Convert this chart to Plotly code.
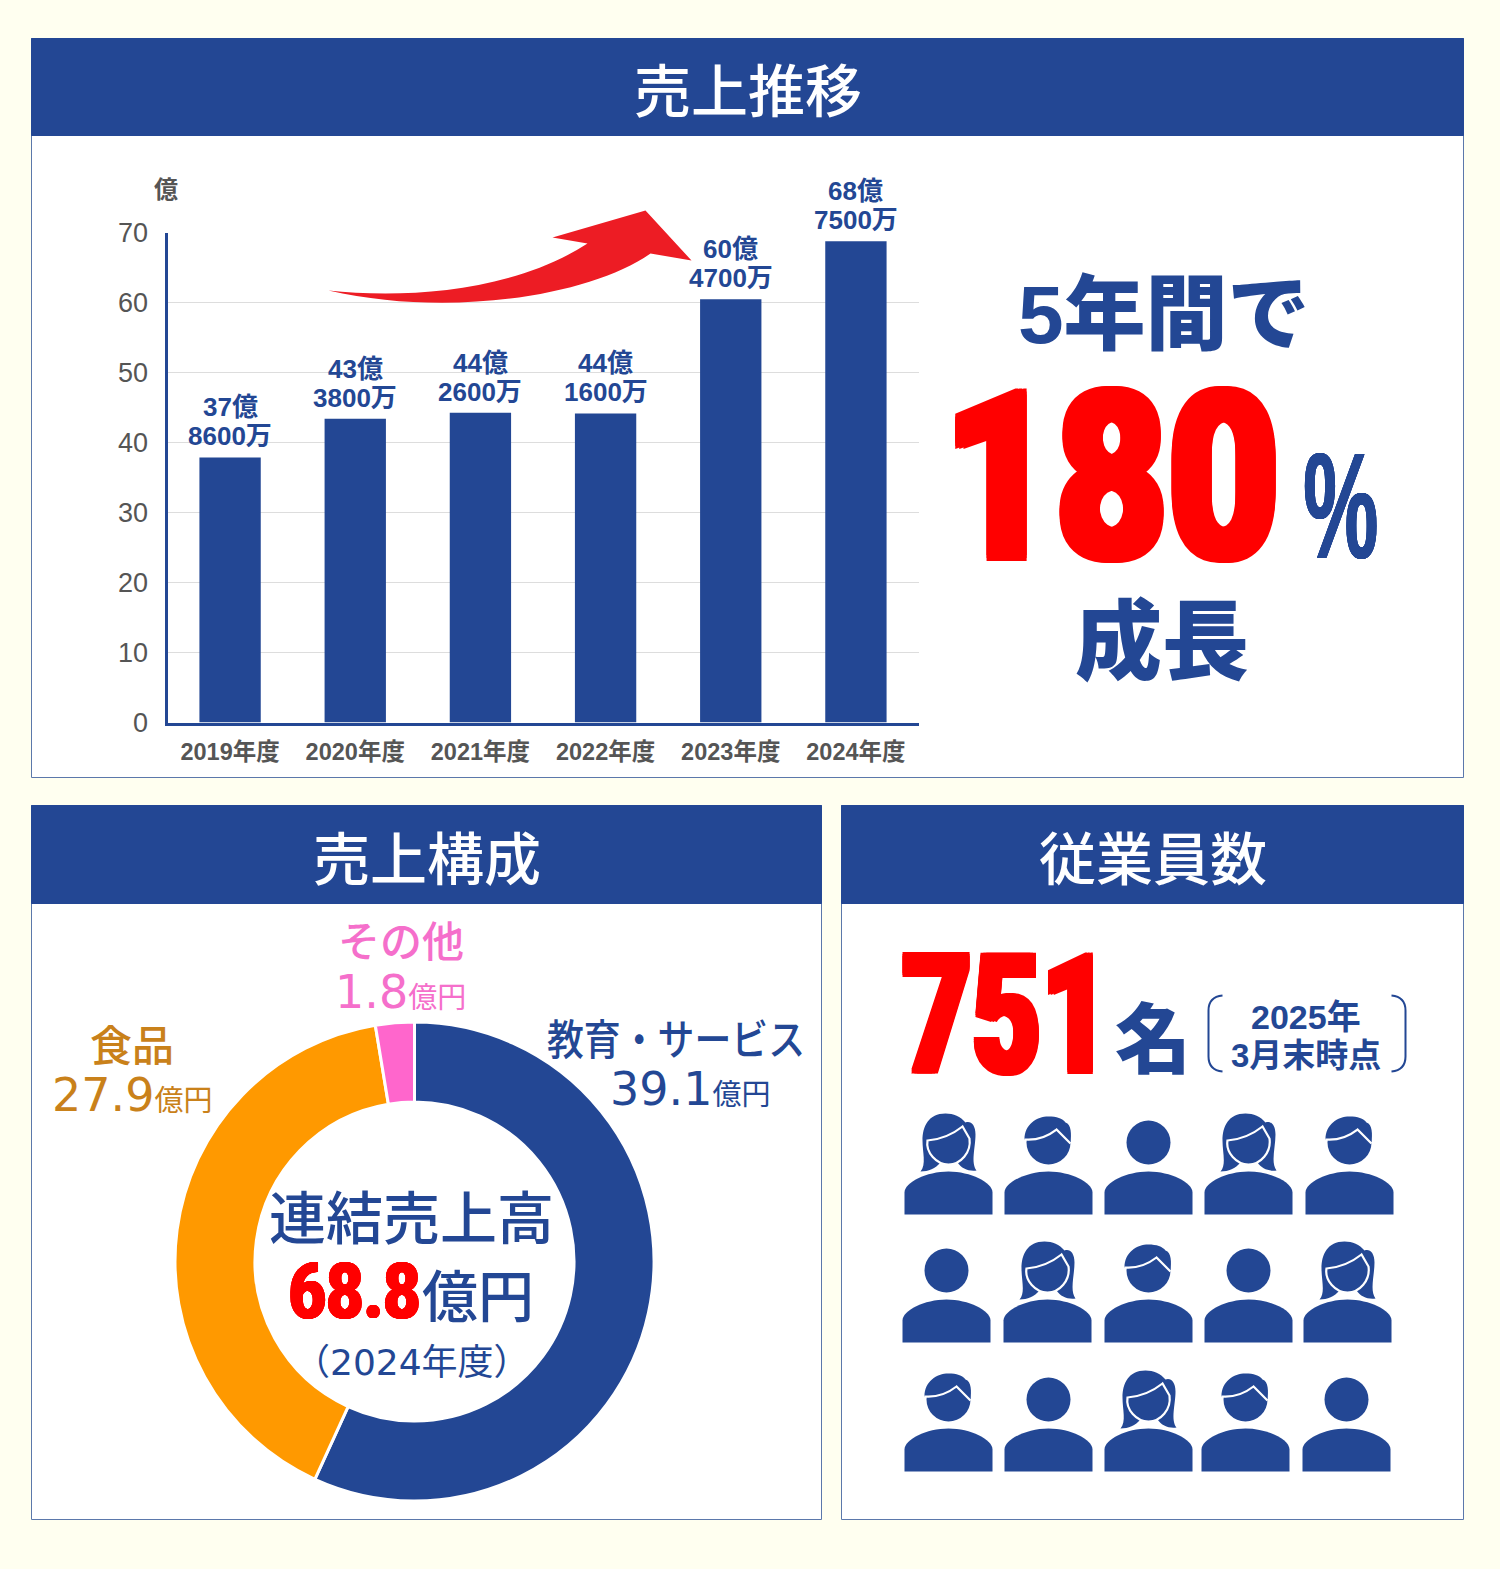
import plotly.graph_objects as go

W, H = 1500, 1569
NAVY = "#234794"
RED = "#FF0000"
GREY = "#555555"
JP = "Noto Sans CJK JP"
LATIN = "Liberation Sans, Noto Sans CJK JP"
WIDE = "DejaVu Sans, Noto Sans CJK JP"
HEAVY = "Roboto"

# sales per year (oku yen)
years = ["2019年度", "2020年度", "2021年度", "2022年度", "2023年度", "2024年度"]
sales = [37.86, 43.38, 44.26, 44.16, 60.47, 68.75]
sales_oku = ["37億", "43億", "44億", "44億", "60億", "68億"]
sales_man = ["8600万", "3800万", "2600万", "1600万", "4700万", "7500万"]
y_ticks = [0, 10, 20, 30, 40, 50, 60, 70]

# sales breakdown 2024
segments = ["教育・サービス", "食品", "その他"]
segment_values = [39.1, 27.9, 1.8]
segment_colors = [NAVY, "#FF9900", "#FF66CC"]

# people icons, n = no hair, m = male, f = female
icon_rows = [
    ["f", "m", "n", "f", "m"],
    ["n", "f", "m", "n", "f"],
    ["m", "n", "f", "m", "n"],
]
icon_x = [
    [948, 1048, 1148, 1248, 1349],
    [946, 1047, 1148, 1248, 1347],
    [948, 1048, 1148, 1245, 1346],
]
icon_bottom = [1214, 1342, 1471]


def px(x):
    return (x + 0.5) / W


def py(y):
    return 1 - (y + 0.5) / H


def path(points):
    # points in pixels: ("M", x, y), ("L", x, y), ("C", x1, y1, x2, y2, x, y), ("Z",)
    out = []
    for p in points:
        coords = []
        for i, v in enumerate(p[1:]):
            coords.append(f"{px(v) if i % 2 == 0 else py(v):.5f}")
        out.append(p[0] + " " + ",".join(coords) if coords else p[0])
    return " ".join(out)


shapes = []


def rect(x0, y0, x1, y1, fill, line=None):
    shapes.append(dict(type="rect", xref="paper", yref="paper", layer="below",
                       x0=px(x0), x1=px(x1), y0=py(y0), y1=py(y1), fillcolor=fill,
                       line=dict(color=line or fill, width=1)))


def draw(points, fill=NAVY, line=None, width=0):
    shapes.append(dict(type="path", xref="paper", yref="paper", layer="above",
                       path=path(points), fillcolor=fill,
                       line=dict(color=line or "rgba(0,0,0,0)", width=width)))


def circle(cx, cy, r, fill=NAVY):
    shapes.append(dict(type="circle", xref="paper", yref="paper", layer="above",
                       x0=px(cx - r), x1=px(cx + r), y0=py(cy - r), y1=py(cy + r),
                       fillcolor=fill, line=dict(width=0)))


def person(kind, cx, by):
    # shoulders
    draw([("M", cx - 44, by), ("L", cx - 44, by - 22),
          ("C", cx - 44, by - 32, cx - 22, by - 43, cx, by - 43),
          ("C", cx + 22, by - 43, cx + 44, by - 32, cx + 44, by - 22),
          ("L", cx + 44, by), ("Z",)])
    cy = by - 72
    if kind == "n":
        circle(cx, cy, 22)
    elif kind == "m":
        circle(cx, cy, 22)
        draw([("M", cx - 24, cy - 3),
              ("C", cx - 24, cy - 18, cx - 12, cy - 26, cx, cy - 26),
              ("C", cx + 8, cy - 26, cx + 14, cy - 24, cx + 17, cy - 20),
              ("C", cx + 23, cy - 18, cx + 23, cy - 8, cx + 22, cy),
              ("L", cx + 8, cy - 13),
              ("C", cx, cy - 6, cx - 12, cy - 3, cx - 24, cy - 3), ("Z",)])
        draw([("M", cx - 24, cy - 3),
              ("C", cx - 12, cy - 2, cx - 1, cy - 6, cx + 8, cy - 13),
              ("L", cx + 22, cy + 1)], fill="rgba(0,0,0,0)", line="white", width=2.2)
    else:
        # hair first, then the face on top with a white outline
        draw([("M", cx - 3, cy - 29),
              ("C", cx - 20, cy - 29, cx - 26, cy - 16, cx - 26, cy - 2),
              ("C", cx - 26, cy + 10, cx - 22, cy + 22, cx - 28, cy + 29),
              ("C", cx - 20, cy + 29, cx - 13, cy + 26, cx - 8, cy + 20),
              ("L", cx + 9, cy + 20),
              ("C", cx + 13, cy + 26, cx + 20, cy + 29, cx + 28, cy + 28),
              ("C", cx + 22, cy + 20, cx + 27, cy + 5, cx + 27, cy - 8),
              ("C", cx + 27, cy - 18, cx + 22, cy - 22, cx + 17, cy - 20),
              ("C", cx + 12, cy - 26, cx + 5, cy - 29, cx - 3, cy - 29), ("Z",)])
        draw([("M", cx - 21, cy - 2),
              ("C", cx - 8, cy - 3, cx + 4, cy - 8, cx + 14, cy - 16),
              ("L", cx + 21, cy - 4),
              ("C", cx + 23, cy + 10, cx + 12, cy + 22, cx, cy + 22),
              ("C", cx - 12, cy + 22, cx - 23, cy + 10, cx - 21, cy - 2), ("Z",)],
             line="white", width=2.2)


# panels
rect(31, 38, 1463, 777, "white", "#5B78AB")
rect(31, 38, 1463, 135, NAVY)
rect(31, 805, 821, 1519, "white", "#5B78AB")
rect(31, 805, 821, 903, NAVY)
rect(841, 805, 1463, 1519, "white", "#5B78AB")
rect(841, 805, 1463, 903, NAVY)

# arrow over the bars
draw([("M", 328, 290),
      ("C", 400, 298, 510, 293, 587, 243),
      ("L", 552, 237), ("L", 645, 210), ("L", 691, 260), ("L", 650, 253),
      ("C", 590, 295, 450, 318, 328, 290), ("Z",)], fill="#ED1C24")

# brackets around the date
draw([("M", 1222, 995), ("C", 1212, 996, 1208, 1002, 1208, 1010), ("L", 1208, 1056),
      ("C", 1208, 1064, 1212, 1070, 1222, 1071)],
     fill="rgba(0,0,0,0)", line=NAVY, width=2)
draw([("M", 1391, 995), ("C", 1401, 996, 1405, 1002, 1405, 1010), ("L", 1405, 1056),
      ("C", 1405, 1064, 1401, 1070, 1391, 1071)],
     fill="rgba(0,0,0,0)", line=NAVY, width=2)

for kinds, xs, by in zip(icon_rows, icon_x, icon_bottom):
    for kind, cx in zip(kinds, xs):
        person(kind, cx, by)

annotations = []


def note(x, y, text, size, color=NAVY, weight=400, family=JP, shadow=None):
    font = dict(family=family, size=size, color=color, weight=weight)
    if shadow:
        font["shadow"] = shadow
    annotations.append(dict(xref="paper", yref="paper", x=px(x), y=py(y), text=text,
                            showarrow=False, xanchor="center", yanchor="middle",
                            font=font))


def fat(color, nx, ny):
    # thicker digits than any installed font has
    parts = []
    for dx, dy in [(nx, 0), (-nx, 0), (0, ny), (0, -ny),
                   (nx, ny), (-nx, ny), (nx, -ny), (-nx, -ny)]:
        parts.append(f"{dx}px {dy}px 0 {color}")
    return ", ".join(parts)


def small(text, size):
    return f'<span style="font-size:{size}px;font-family:{JP}">{text}</span>'


note(747, 87, "売上推移", 57, "white", 500)
note(426, 854, "売上構成", 57, "white", 500)
note(1152, 854, "従業員数", 57, "white", 500)
note(165, 187, "億", 24, GREY, 700)

note(1163, 314, "5年間で", 82, NAVY, 900, LATIN)
note(1111, 478, "180", 233, RED, 900, HEAVY, fat(RED, 5, 3))
note(1340, 505, "%", 150, NAVY, 700, LATIN, fat(NAVY, 1, 0))
note(1161, 635, "成長", 87, NAVY, 900)

# segment labels
note(675, 1036, segments[0], 42, NAVY, 500)
note(689, 1088, f"{segment_values[0]}" + small("億円", 29), 46, NAVY, 400, WIDE)
note(131, 1042, segments[1], 42, "#C9811A", 500)
note(131, 1094, f"{segment_values[1]}" + small("億円", 29), 46, "#C9811A", 400, WIDE)
note(400, 938, segments[2], 42, "#F56FCB", 500)
note(400, 991, f"{segment_values[2]}" + small("億円", 29), 46, "#F56FCB", 400, WIDE)

note(411, 1213, "連結売上高", 57, NAVY, 500)
note(354, 1291, "68.8", 78, RED, 900, HEAVY, fat(RED, 1, 0))
note(477, 1292, "億円", 56, NAVY, 500)
note(411, 1362, "（2024年度）", 36, NAVY, 400, WIDE)

note(1006, 1015, "751", 165, RED, 900, HEAVY, fat(RED, 4, 2))
note(1152, 1033, "名", 76, NAVY, 900)
note(1305, 1016, "2025年", 34, NAVY, 700, LATIN)
note(1305, 1055, "3月末時点", 33, NAVY, 700, LATIN)

# value labels above the bars, two lines closer than a plotly line break
for year, value, oku, man in zip(years, sales, sales_oku, sales_man):
    for text, shift in [(oku, 50), (man, 21)]:
        annotations.append(dict(xref="x", yref="y", x=year, y=value, text=text,
                                showarrow=False, yanchor="middle", yshift=shift,
                                font=dict(family=LATIN, size=26, color=NAVY, weight=700)))

fig = go.Figure()

fig.add_trace(go.Bar(
    x=years, y=sales, width=0.49, marker=dict(color=NAVY, line=dict(width=0)),
    cliponaxis=False, hoverinfo="skip", showlegend=False, xaxis="x", yaxis="y",
))

fig.add_trace(go.Pie(
    labels=segments, values=segment_values, hole=0.666, sort=False, direction="clockwise",
    rotation=0, textinfo="none", showlegend=False,
    marker=dict(colors=segment_colors, line=dict(color="white", width=3)),
    domain=dict(x=[px(174.5), px(653.5)], y=[py(1500.5), py(1021.5)]),
))

fig.update_layout(
    width=W, height=H, margin=dict(l=0, r=0, t=0, b=0, autoexpand=False), autosize=False,
    paper_bgcolor="#FFFFF0", plot_bgcolor="rgba(0,0,0,0)",
    shapes=shapes, annotations=annotations, bargap=0.51,
    xaxis=dict(domain=[px(167), px(918)], anchor="y", showgrid=False, showline=True,
               linecolor=NAVY, linewidth=3, ticks="outside", ticklen=6,
               tickcolor="rgba(0,0,0,0)", range=[-0.5, 5.5], fixedrange=True,
               tickfont=dict(family=LATIN, size=23.5, color=GREY, weight=700)),
    yaxis=dict(domain=[py(722), py(232)], anchor="x", range=[0, 70], tickvals=y_ticks,
               showgrid=True, gridcolor="#DDDDDD", gridwidth=1, zeroline=False,
               showline=True, linecolor=NAVY, linewidth=3, ticks="outside", ticklen=11,
               tickcolor="rgba(0,0,0,0)", fixedrange=True,
               tickfont=dict(family=LATIN, size=27, color=GREY)),
)

# no page margin, and the condensed display numbers (no condensed font installed)
squeeze_js = """
document.body.style.margin = '0';
var widths = {'180': 336, '751': 208, '68.8': 132, '%': 75, '教育・サービス': 258};
document.querySelectorAll('.annotation-text').forEach(function (t) {
  var w = widths[t.textContent];
  if (w) {
    t.setAttribute('textLength', w);
    t.setAttribute('lengthAdjust', 'spacingAndGlyphs');
  }
});
"""

fig.write_html("out.html", post_script=squeeze_js, config=dict(displayModeBar=False))
